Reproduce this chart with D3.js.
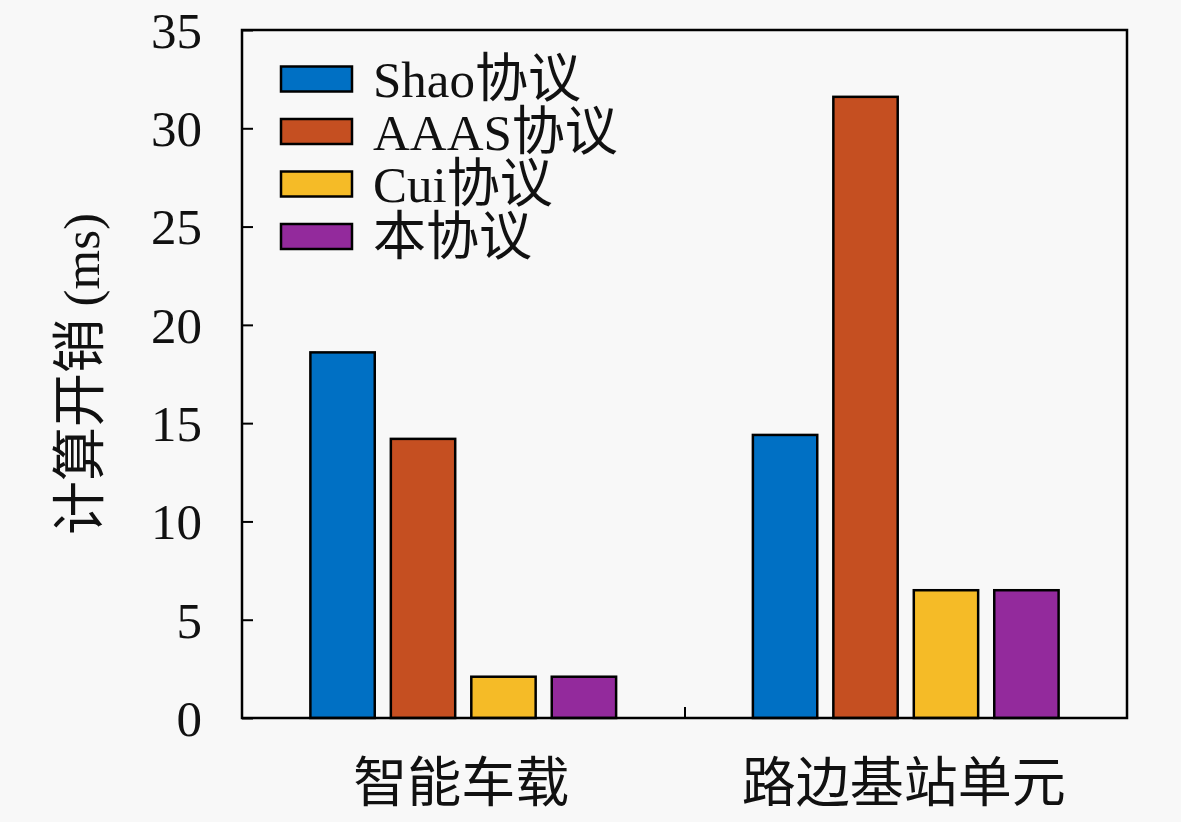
<!DOCTYPE html>
<html>
<head>
<meta charset="utf-8">
<script src="https://cdn.jsdelivr.net/npm/d3@7"></script>
<style>
  body { margin: 0; background: #f8f8f8; }
  text { fill: #111; }
</style>
</head>
<body>
<script>
// data
const groups = ["智能车载", "路边基站单元"];
const seriesNames = ["Shao协议", "AAAS协议", "Cui协议", "本协议"];
const shaoVals = [18.6, 14.4];
const aaasVals = [14.2, 31.6];
const cuiVals = [2.1, 6.5];
const oursVals = [2.1, 6.5];
const yTicks = [0, 5, 10, 15, 20, 25, 30, 35];
const colors = ["#0070c4", "#c54f21", "#f5bb27", "#932a9c"];

const latin = "'Liberation Serif', 'DejaVu Serif', serif";
const cjk = "'Noto Sans CJK SC', sans-serif";

// split a label into latin / cjk runs, cjk glyphs are drawn a little larger
function mixedText(sel, latinSize, cjkSize){
    sel.attr("font-family", latin).attr("font-size", latinSize + "px");
    sel.each(function(d){
        const t = d3.select(this);
        const runs = d.match(/[\u3000-\u9fff]+|[^\u3000-\u9fff]+/g);
        runs.forEach(r => {
            const isCjk = /[\u3000-\u9fff]/.test(r);
            t.append("tspan")
                .attr("font-family", isCjk ? cjk : latin)
                .attr("font-size", (isCjk ? cjkSize : latinSize) + "px")
                .text(r);
        });
    });
}

function main(){
    const width = 1181;
    const height = 822;

    const svg = d3.select("body").append("svg")
        .attr("width", width)
        .attr("height", height)
        .style("background", "#f8f8f8");

    const left = 242, right = 1127, top = 30, bottom = 718;

    const x = d3.scaleLinear().domain([0.5, 2.5]).range([left, right]);
    const y = d3.scaleLinear().domain([0, 35]).range([bottom, top]);

    const values = [shaoVals, aaasVals, cuiVals, oursVals];
    const nSeries = values.length;
    // matlab grouped bar geometry
    const groupWidth = Math.min(0.8, nSeries / (nSeries + 1.5));
    const pitch = groupWidth / nSeries;
    const barW = pitch * 0.8;

    const bars = [];
    values.forEach((vals, s) => {
        vals.forEach((v, g) => {
            const c = (g + 1) + (s - (nSeries - 1) / 2) * pitch;
            bars.push({s: s, g: g, x0: c - barW / 2, x1: c + barW / 2, v: v});
        });
    });

    svg.append("g")
        .selectAll("rect")
        .data(bars)
        .enter()
        .append("rect")
        .attr("x", d => x(d.x0))
        .attr("width", d => x(d.x1) - x(d.x0))
        .attr("y", d => y(d.v))
        .attr("height", d => y(0) - y(d.v))
        .style("fill", d => colors[d.s])
        .style("stroke", "#000")
        .style("stroke-width", 2.5);

    // y axis ticks (inward) and labels
    const yAxis = d3.axisLeft(y).tickValues(yTicks).tickSize(-11).tickPadding(40)
        .tickFormat(d3.format("d"));
    const gy = svg.append("g")
        .attr("transform", `translate(${left},0)`)
        .call(yAxis);
    gy.select(".domain").remove();
    gy.selectAll(".tick line").attr("stroke", "#000").attr("stroke-width", 2);
    gy.selectAll(".tick text")
        .attr("font-family", latin)
        .attr("font-size", "51px")
        .attr("dy", "0.34em")
        .style("fill", "#111");

    // x axis: one visible tick between the groups
    const xAxis = d3.axisBottom(x).tickValues([1.5]).tickSize(-11).tickFormat("");
    const gx = svg.append("g")
        .attr("transform", `translate(0,${bottom})`)
        .call(xAxis);
    gx.select(".domain").remove();
    gx.selectAll(".tick line").attr("stroke", "#000").attr("stroke-width", 2);

    svg.append("g")
        .selectAll("text")
        .data(groups)
        .enter()
        .append("text")
        .attr("x", (d, i) => x(i + 1) - 2)
        .attr("y", 802)
        .attr("text-anchor", "middle")
        .attr("font-family", cjk)
        .attr("font-size", "54px")
        .text(d => d);

    // box
    svg.append("rect")
        .attr("x", left)
        .attr("y", top)
        .attr("width", right - left)
        .attr("height", bottom - top)
        .style("fill", "none")
        .style("stroke", "#000")
        .style("stroke-width", 2.5);

    svg.append("text")
        .datum("计算开销 (ms)")
        .attr("transform", `translate(99,${(top + bottom) / 2}) rotate(-90)`)
        .attr("text-anchor", "middle")
        .call(mixedText, 51, 54);

    // legend
    const legend = svg.append("g")
        .attr("transform", "translate(281,79)")
        .selectAll("g")
        .data(seriesNames)
        .enter()
        .append("g")
        .attr("transform", (d, i) => `translate(0,${i * 52.5})`);
    legend.append("rect")
        .attr("x", 0)
        .attr("y", -12.5)
        .attr("width", 71)
        .attr("height", 25)
        .style("fill", (d, i) => colors[i])
        .style("stroke", "#000")
        .style("stroke-width", 2.5);
    legend.append("text")
        .attr("x", 92)
        .attr("y", 18)
        .call(mixedText, 51, 53);
}

main();
</script>
</body>
</html>
